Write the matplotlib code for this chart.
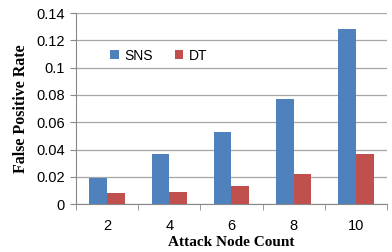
import matplotlib
matplotlib.use("Agg")
import matplotlib.pyplot as plt
import numpy as np

categories = ["2", "4", "6", "8", "10"]
sns_vals = [0.019, 0.037, 0.053, 0.077, 0.128]
dt_vals = [0.008, 0.009, 0.013, 0.022, 0.037]

fig = plt.figure(figsize=(3.92, 2.52), dpi=100)
ax = fig.add_axes([0.194, 0.19, 0.793, 0.758])

x = np.arange(len(categories))
w = 0.285
ax.bar(x - w / 2, sns_vals, w, color="#4f81bd", label="SNS", zorder=3)
ax.bar(x + w / 2, dt_vals, w, color="#c0504d", label="DT", zorder=3)

ax.set_xlim(-0.5, len(categories) - 0.5)
ax.set_ylim(0, 0.14)
ax.set_yticks(np.arange(0, 0.141, 0.02))
ax.set_yticklabels(["0", "0.02", "0.04", "0.06", "0.08", "0.1", "0.12", "0.14"])
ax.set_xticks(x)
ax.set_xticklabels(categories)
ax.set_xticks(np.arange(-0.5, len(categories), 1), minor=True)
ax.tick_params(axis="x", which="major", length=0, pad=11)
ax.tick_params(axis="x", which="minor", length=4, color="#888888")
ax.tick_params(axis="y", length=4, color="#888888", pad=4)
for lab in ax.get_xticklabels() + ax.get_yticklabels():
    lab.set_fontfamily("Liberation Sans")
    lab.set_fontsize(10.5)

ax.grid(axis="y", color="#a6a6a6", linewidth=0.9, zorder=0)
for s in ["top", "right"]:
    ax.spines[s].set_visible(False)
ax.spines["left"].set_color("#888888")
ax.spines["bottom"].set_color("#888888")

ax.set_ylabel("False Positive Rate", fontfamily="Liberation Serif",
              fontweight="bold", fontsize=11.5, labelpad=5)
ax.set_xlabel("Attack Node Count", fontfamily="Liberation Serif",
              fontweight="bold", fontsize=11, labelpad=2)

leg = ax.legend(loc="upper left", bbox_to_anchor=(0.07, 0.88), ncol=2,
                frameon=False, prop={"family": "Liberation Sans", "size": 10},
                handlelength=0.6, handleheight=0.6, columnspacing=1.6,
                handletextpad=0.4)

fig.savefig("out.png", dpi=100)
